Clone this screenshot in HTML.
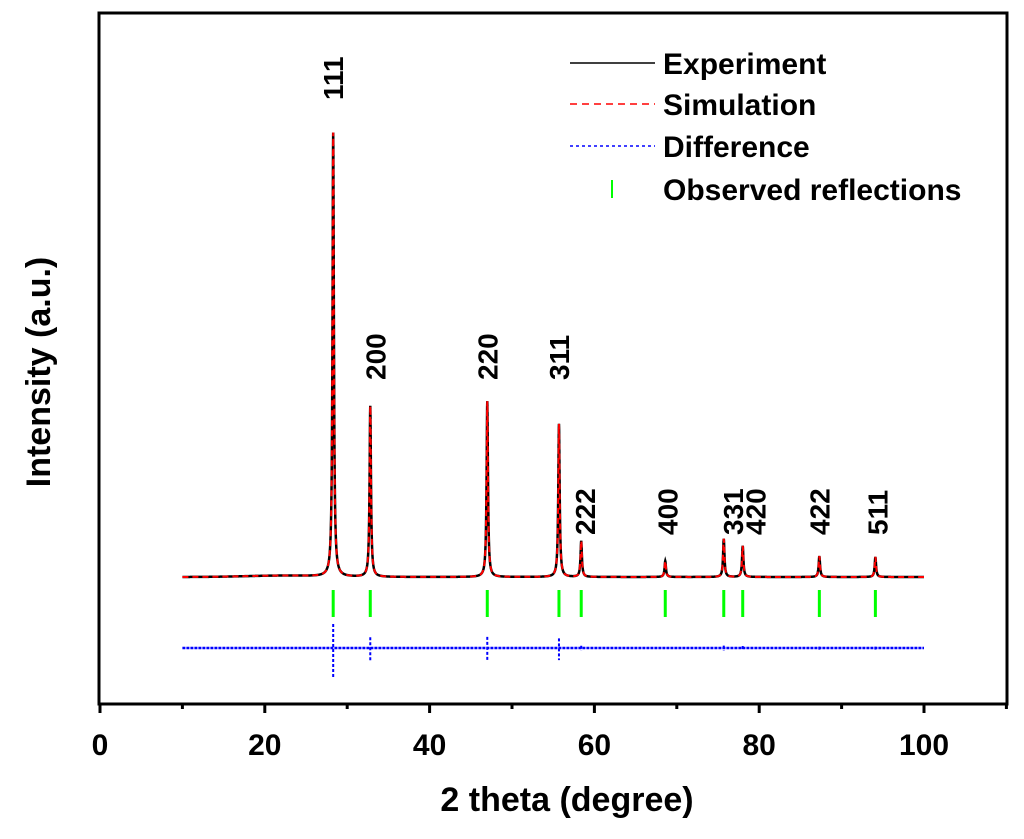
<!DOCTYPE html>
<html><head><meta charset="utf-8"><style>
body{margin:0;background:#fff;}
svg text{font-family:"Liberation Sans",Arial,sans-serif;font-weight:bold;}
</style></head><body>
<svg id="chart" width="1024" height="834" viewBox="0 0 1024 834" xmlns="http://www.w3.org/2000/svg">
<rect x="99" y="13" width="908" height="691" fill="none" stroke="#000" stroke-width="3"/>
<g id="xticks"></g>
<g id="series"></g>
<g id="labels"></g>
<text x="567" y="811" font-size="34" text-anchor="middle">2 theta (degree)</text>
<text transform="translate(50,372) rotate(-90)" font-size="34" text-anchor="middle">Intensity (a.u.)</text>
<g>
<line x1="570" y1="63" x2="655" y2="63" stroke="#000" stroke-width="1.5"/>
<text x="663" y="74" font-size="30">Experiment</text>
<line x1="570" y1="104" x2="655" y2="104" stroke="#f00" stroke-width="1.5" stroke-dasharray="7,5"/>
<text x="663" y="115" font-size="30">Simulation</text>
<line x1="570" y1="146" x2="655" y2="146" stroke="#00f" stroke-width="1.5" stroke-dasharray="3,3"/>
<text x="663" y="157" font-size="30">Difference</text>
<line x1="612" y1="180" x2="612" y2="198" stroke="#0f0" stroke-width="2"/>
<text x="663" y="200" font-size="30">Observed reflections</text>
</g>
</svg>
<script>
const peakPos = [28.3, 32.8, 47.0, 55.7, 58.4, 68.6, 75.7, 78.0, 87.3, 94.1];
const peakHeight = [100, 38.5, 39.6, 34.5, 8.1, 3.6, 8.6, 7.0, 4.7, 4.5];
const peakLabels = ["111","200","220","311","222","400","331","420","422","511"];
const xTicks = [0, 20, 40, 60, 80, 100];
const xMinor = [10, 30, 50, 70, 90, 110];
const ns = "http://www.w3.org/2000/svg";
const X = v => 100 + v * 8.24;
const Y = v => 577 - v * 4.44;
const labelDX = [0, 5, 0, 0, 4, 2, 9, 13, 0, 2];
function labelBottom(i){ return i===0 ? 100 : (i<4 ? 380 : 535); }
function mk(tag, attrs, parent){const e=document.createElementNS(ns,tag);for(const k in attrs)e.setAttribute(k,attrs[k]);parent.appendChild(e);return e;}
const gx=document.getElementById('xticks');
xTicks.forEach(t=>{
  const l=mk('line',{x1:X(t),x2:X(t),y1:704,y2:713,stroke:'#000','stroke-width':3},gx);
  
  
  const tx=mk('text',{x:X(t),y:755,'font-size':30,'text-anchor':'middle'},gx);
  tx.textContent=t;
  
  
});
xMinor.forEach(t=>{
  const l=mk('line',{x1:X(t),x2:X(t),y1:704,y2:709,stroke:'#000','stroke-width':3},gx);
  
  
});
function profile(x){let s=0;for(let i=0;i<peakPos.length;i++){const d=(x-peakPos[i])/0.1;s+=peakHeight[i]/(1+d*d);}
  s+=0.3*Math.exp(-Math.pow((x-22)/6,2));return s;}
let p='';for(let x=10;x<=100;x+=0.02){p+=(p?'L':'M')+X(x).toFixed(2)+','+Y(profile(x)).toFixed(2);}
const gs=document.getElementById('series');
const e=mk('path',{d:p,fill:'none',stroke:'#000','stroke-width':2.5},gs);


const s=mk('path',{d:p,fill:'none',stroke:'#f00','stroke-width':2,'stroke-dasharray':'6,4'},gs);


const diff=mk('line',{x1:X(10),x2:X(100),y1:648,y2:648,stroke:'#00f','stroke-width':2.5,'stroke-dasharray':'3,1'},gs);


peakPos.forEach((pp,i)=>{
  const amp=Math.min(30,peakHeight[i]*0.35);
  if(amp>1.5){const d=mk('line',{x1:X(pp),x2:X(pp),y1:648-amp*0.8,y2:648+amp,stroke:'#00f','stroke-width':2,'stroke-dasharray':'3,2'},gs);
    
    }
  const g=mk('line',{x1:X(pp),x2:X(pp),y1:590,y2:617,stroke:'#0f0','stroke-width':3},gs);
  
  
  const tx=mk('text',{transform:`translate(${X(pp)+10+labelDX[i]},${labelBottom(i)}) rotate(-90)`,'font-size':28},document.getElementById('labels'));
  tx.textContent=peakLabels[i];
  
  
});
</script>
</body></html>
